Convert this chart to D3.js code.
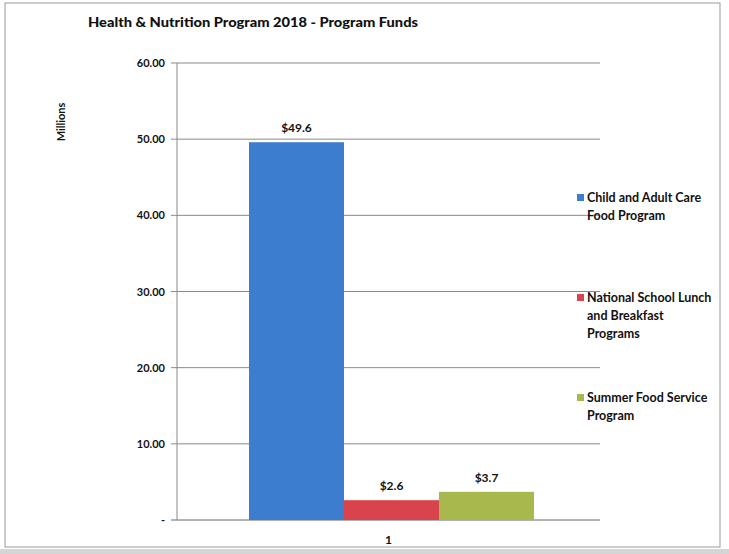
<!DOCTYPE html>
<html>
<head>
<meta charset='utf-8'>
<title>Health & Nutrition Program 2018</title>
<style>
  body { margin: 0; background: #fff; }
  text { font-family: 'Lato', 'Open Sans', sans-serif; font-weight: bold; fill: #111; }
</style>
<script src='https://d3js.org/d3.v7.min.js'></script>
</head>
<body>
<div id="container"></div>
<script>
// ******* Data *******
const programs = ["Child and Adult Care Food Program",
                  "National School Lunch and Breakfast Programs",
                  "Summer Food Service Program"];
const legendLines = [["Child and Adult Care", "Food Program"],
                     ["National School Lunch", "and Breakfast", "Programs"],
                     ["Summer Food Service", "Program"]];
const funds = [49.6, 2.6, 3.7];
const valueLabels = ["$49.6", "$2.6", "$3.7"];
const yTicks = [0, 10, 20, 30, 40, 50, 60];
const colors = ["#3d7dd0", "#d9434c", "#a9b84c"];
const category = ["1"];

// ******* Constants *******
const width = 729, height = 554;
const margin = {top: 63, left: 177, right: 129, bottom: 34};

const svg = d3.select("#container").append("svg")
    .attr("width", width)
    .attr("height", height);

// chart frame
svg.append("rect")
    .attr("x", 5).attr("y", 3)
    .attr("width", 715).attr("height", 544)
    .attr("fill", "none").attr("stroke", "#999").attr("stroke-width", 1);

// ******* Scales *******
const y = d3.scaleLinear()
    .domain([0, 60])
    .range([height - margin.bottom, margin.top]);

const x0 = d3.scaleBand()
    .domain(category)
    .range([margin.left, width - margin.right]);

const x1 = d3.scaleBand()
    .domain(programs)
    .range([x0("1") + 72, x0("1") + x0.bandwidth() - 66]);

// ******* Gridlines *******
svg.append("g")
    .selectAll("line")
    .data(yTicks)
    .join("line")
    .attr("x1", margin.left - 6)
    .attr("x2", width - margin.right)
    .attr("y1", d => y(d))
    .attr("y2", d => y(d))
    .attr("stroke", d => d === 0 ? "#666" : "#8a8a8a")
    .attr("stroke-width", 1);

// y axis line
svg.append("line")
    .attr("x1", margin.left).attr("x2", margin.left)
    .attr("y1", y(60)).attr("y2", y(0))
    .attr("stroke", "#888");

// y tick labels
svg.append("g")
    .selectAll("text")
    .data(yTicks)
    .join("text")
    .attr("x", margin.left - 12)
    .attr("y", d => y(d) + 4)
    .attr("text-anchor", "end")
    .style("font-size", "11px")
    .text(d => d === 0 ? "-" : d3.format(".2f")(d));

// y axis title
svg.append("text")
    .attr("transform", `translate(65, 122) rotate(-90)`)
    .attr("text-anchor", "middle")
    .style("font-size", "11px")
    .text("Millions");

// ******* Bars *******
svg.append("g")
    .selectAll("rect")
    .data(funds)
    .join("rect")
    .attr("x", (d, i) => x1(programs[i]))
    .attr("width", x1.bandwidth())
    .attr("y", d => y(d))
    .attr("height", d => y(0) - y(d))
    .attr("fill", (d, i) => colors[i]);

svg.append("g")
    .selectAll("text")
    .data(funds)
    .join("text")
    .attr("x", (d, i) => x1(programs[i]) + x1.bandwidth() / 2)
    .attr("y", d => y(d) - 10)
    .attr("text-anchor", "middle")
    .style("font-size", "12px")
    .text((d, i) => valueLabels[i]);

// category label
svg.append("text")
    .attr("x", x0("1") + x0.bandwidth() / 2)
    .attr("y", height - margin.bottom + 24)
    .attr("text-anchor", "middle")
    .style("font-size", "12px")
    .text(category[0]);

// ******* Title *******
svg.append("text")
    .attr("x", 88)
    .attr("y", 27)
    .attr("textLength", 330)
    .attr("lengthAdjust", "spacingAndGlyphs")
    .style("font-size", "13px")
    .style("font-weight", "900")
    .text("Health & Nutrition Program 2018 - Program Funds");

// ******* Legend *******
const legendY = [198, 298, 398];
const legend = svg.append("g")
    .selectAll("g")
    .data(programs)
    .join("g")
    .attr("transform", (d, i) => `translate(577, ${legendY[i]})`);

legend.append("rect")
    .attr("x", 0).attr("y", -4)
    .attr("width", 7).attr("height", 7)
    .attr("fill", (d, i) => colors[i]);

legend.append("text")
    .style("font-size", "12.5px")
    .selectAll("tspan")
    .data((d, i) => legendLines[i])
    .join("tspan")
    .attr("x", 10)
    .attr("dy", (d, j) => j === 0 ? 4 : 18)
    .text(d => d);

// bottom gray band from the scan
svg.append("rect")
    .attr("x", 0).attr("y", 549)
    .attr("width", width).attr("height", 5)
    .attr("fill", "#d5d5d5");
</script>
</body>
</html>
